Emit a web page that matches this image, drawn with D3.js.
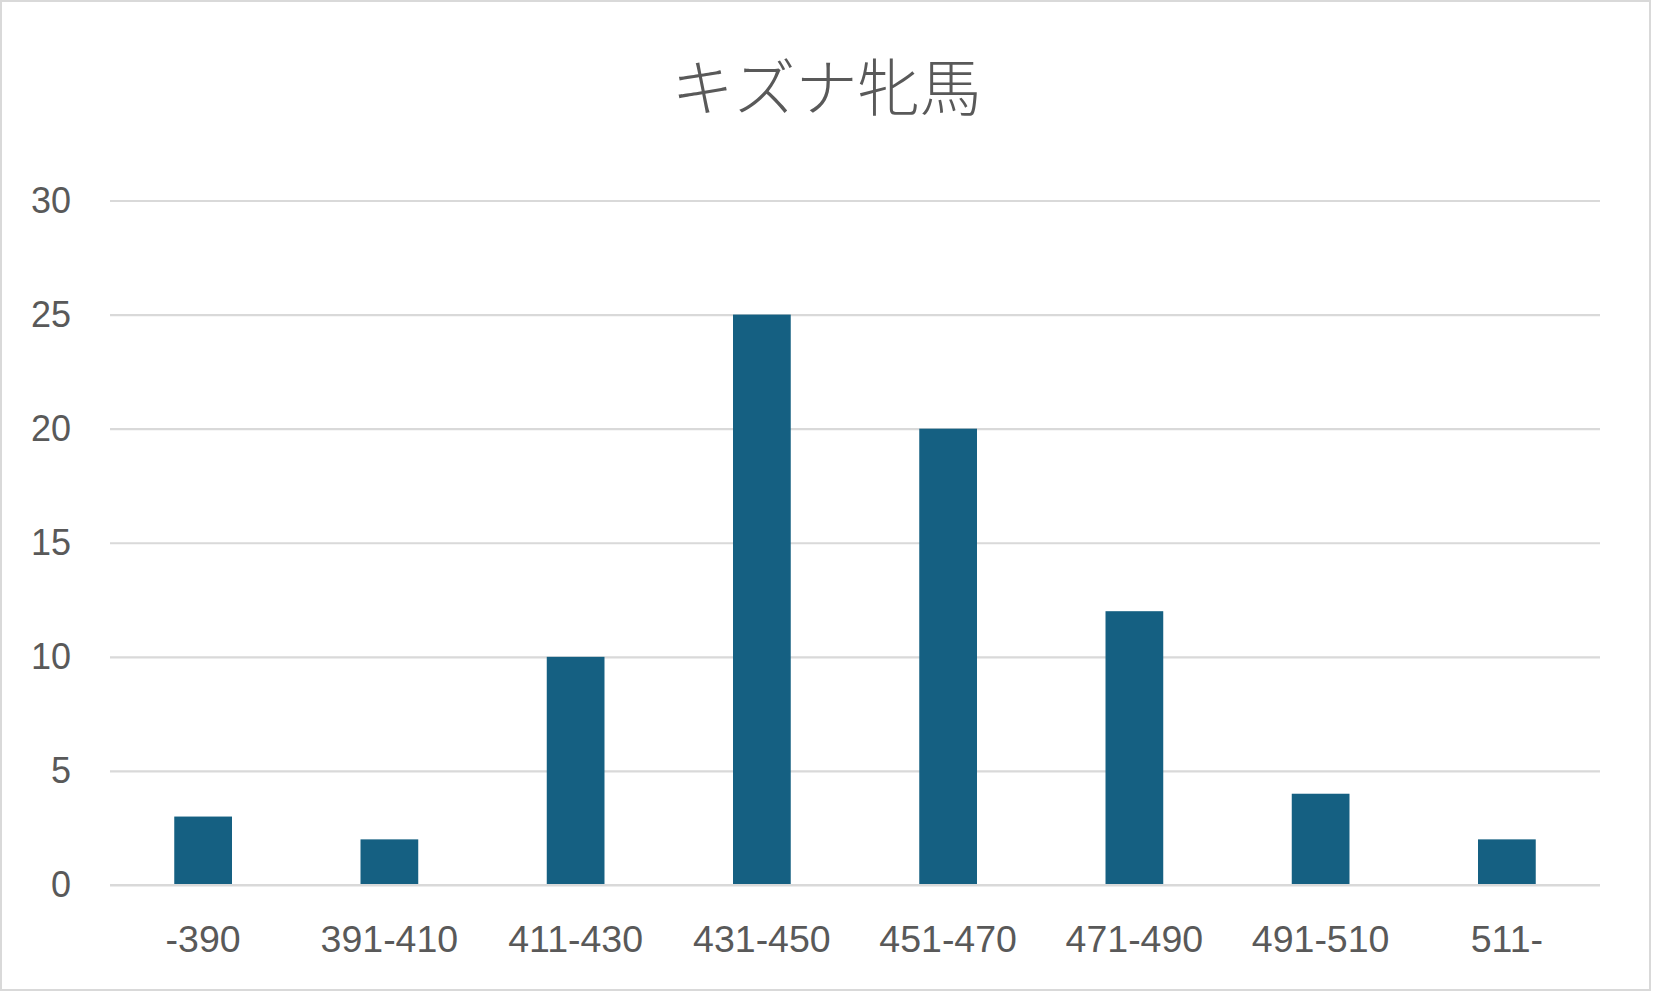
<!DOCTYPE html>
<html>
<head>
<meta charset="utf-8">
<script src="https://cdn.jsdelivr.net/npm/d3@7"></script>
<style>
html,body{margin:0;padding:0;background:#fff;}
svg{display:block;}
</style>
</head>
<body>
<script>
const categories = ["-390","391-410","411-430","431-450","451-470","471-490","491-510","511-"];
const values = [3, 2, 10, 25, 20, 12, 4, 2];
const yTicks = [0, 5, 10, 15, 20, 25, 30];
const title = "キズナ牝馬";

const W = 1653, H = 993;
const margin = {left: 110, right: 53, top: 200.5, bottom: 108};
const svg = d3.select("body").append("svg").attr("width", W).attr("height", H);

svg.append("rect").attr("x", 1).attr("y", 1).attr("width", W - 4).attr("height", H - 4)
  .attr("fill", "#fff").attr("stroke", "#d9d9d9").attr("stroke-width", 2);

const x = d3.scaleBand().domain(categories).range([margin.left, W - margin.right]).paddingInner(0.69).paddingOuter(0.345);
const y = d3.scaleLinear().domain([0, 30]).range([H - margin.bottom, margin.top]);

const gy = svg.append("g").attr("transform", `translate(${margin.left},0)`)
  .call(d3.axisLeft(y).tickValues(yTicks).tickSize(-(W - margin.left - margin.right)).tickPadding(39));
gy.select(".domain").remove();
gy.selectAll(".tick line").attr("stroke", "#d9d9d9").attr("stroke-width", 2.2);
gy.selectAll(".tick text").attr("fill", "#595959").style("font-family", "'Liberation Sans', Arial, sans-serif").style("font-size", "36px");

svg.append("g").selectAll("rect").data(values).join("rect")
  .attr("x", (d, i) => x(categories[i]))
  .attr("width", x.bandwidth())
  .attr("y", d => y(d))
  .attr("height", d => y(0) - y(d))
  .attr("fill", "#156082");

// redraw zero line on top
svg.append("line").attr("x1", margin.left).attr("x2", W - margin.right)
  .attr("y1", y(0)).attr("y2", y(0)).attr("stroke", "#d9d9d9").attr("stroke-width", 2.2);

const gx = svg.append("g").attr("transform", `translate(0,${y(0)})`)
  .call(d3.axisBottom(x).tickSize(0).tickPadding(40));
gx.select(".domain").remove();
gx.selectAll(".tick text").attr("fill", "#595959").style("font-family", "'Liberation Sans', Arial, sans-serif").style("font-size", "37.5px");

svg.append("text").attr("x", W / 2).attr("y", 111).attr("text-anchor", "middle")
  .attr("fill", "#595959").style("font-family", "'Noto Sans CJK JP', sans-serif").style("font-weight", 300)
  .style("font-size", "62px").text(title);
</script>
</body>
</html>
